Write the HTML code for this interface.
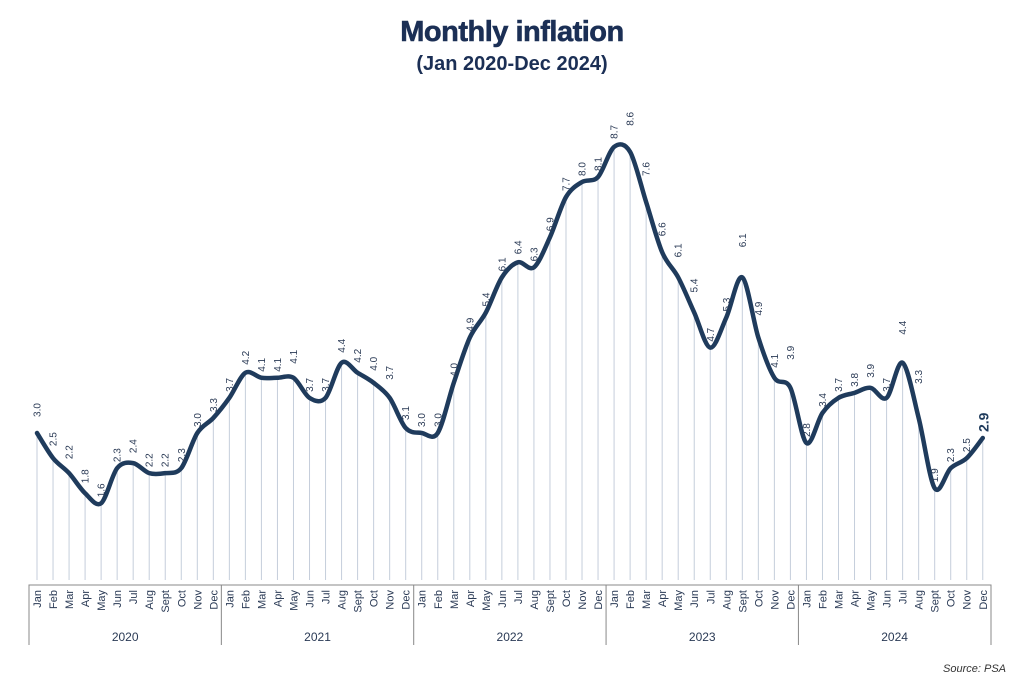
<!DOCTYPE html>
<html><head><meta charset="utf-8"><style>
html,body{margin:0;padding:0;background:#fff;width:1024px;height:688px;overflow:hidden}
svg{display:block}
</style></head><body>
<svg id="s" width="1024" height="688" xmlns="http://www.w3.org/2000/svg" font-family="Liberation Sans, sans-serif">
<text x="512" y="41" text-anchor="middle" font-size="29" font-weight="bold" fill="#1b2f55" letter-spacing="-0.5" stroke="#1b2f55" stroke-width="0.6">Monthly inflation</text>
<text x="512" y="70" text-anchor="middle" font-size="20" font-weight="bold" fill="#1b2f55">(Jan 2020-Dec 2024)</text>
<text x="1006" y="672" text-anchor="end" font-size="11" font-style="italic" fill="#333">Source: PSA</text>
<g id="g"></g>
</svg>
<script>
var d=[3.0,2.5,2.2,1.8,1.6,2.3,2.4,2.2,2.2,2.3,3.0,3.3,
3.7,4.2,4.1,4.1,4.1,3.7,3.7,4.4,4.2,4.0,3.7,3.1,
3.0,3.0,4.0,4.9,5.4,6.1,6.4,6.3,6.9,7.7,8.0,8.1,
8.7,8.6,7.6,6.6,6.1,5.4,4.7,5.3,6.1,4.9,4.1,3.9,
2.8,3.4,3.7,3.8,3.9,3.7,4.4,3.3,1.9,2.3,2.5,2.9];
var m=["Jan","Feb","Mar","Apr","May","Jun","Jul","Aug","Sept","Oct","Nov","Dec"];
function X(i){return 37+i*16.03}
function Y(v){return 433-(v-3)*50.2}
var h='';
var P=d.map(function(v,i){return [X(i),Y(v)]});
for(var i=0;i<60;i++){
 h+='<line x1="'+P[i][0]+'" y1="'+P[i][1]+'" x2="'+P[i][0]+'" y2="580" stroke="#c5cedb" stroke-width="1"/>';
}
h+='<path d="M29 645 V585 H991 V645" fill="none" stroke="#888" stroke-width="1"/>';
var yrs=["2020","2021","2022","2023","2024"];
for(var k=0;k<5;k++){
 if(k>0){var sx=(X(12*k-1)+X(12*k))/2;h+='<line x1="'+sx+'" y1="585" x2="'+sx+'" y2="645" stroke="#888"/>';}
 var cx=(X(12*k)+X(12*k+11))/2;
 h+='<text x="'+cx+'" y="641" text-anchor="middle" font-size="12" fill="#2a3a55">'+yrs[k]+'</text>';
}
for(var i=0;i<60;i++){
 var x=P[i][0]+4;
 h+='<text transform="translate('+x+',590) rotate(-90)" text-anchor="end" font-size="11" fill="#2a3a55">'+m[i%12]+'</text>';
}
var p='M'+P[0][0]+' '+P[0][1];
for(var i=0;i<59;i++){
 var p0=P[Math.max(i-1,0)],p1=P[i],p2=P[i+1],p3=P[Math.min(i+2,59)];
 var t=0.16;
 p+=' C'+(p1[0]+(p2[0]-p0[0])*t)+' '+(p1[1]+(p2[1]-p0[1])*t)+' '+(p2[0]-(p3[0]-p1[0])*t)+' '+(p2[1]-(p3[1]-p1[1])*t)+' '+p2[0]+' '+p2[1];
}
h+='<path d="'+p+'" fill="none" stroke="#1f3b5c" stroke-width="4.5" stroke-linecap="round" stroke-linejoin="round"/>';
for(var i=0;i<60;i++){
 var x=P[i][0]+3.5,y=P[i][1]-6;
 if(i<59){var dy=P[i+1][1]-P[i][1];if(dy>0)y-=Math.min(dy*0.4,30);}
 if(i==59){h+='<text transform="translate('+(x+2)+','+y+') rotate(-90)" font-size="14" font-weight="bold" fill="#1f3b5c">2.9</text>';continue;}
 h+='<text transform="translate('+x+','+y+') rotate(-90)" font-size="10" fill="#2a3a55">'+d[i].toFixed(1)+'</text>';
}
document.getElementById('g').innerHTML=h;
</script>
</body></html>
